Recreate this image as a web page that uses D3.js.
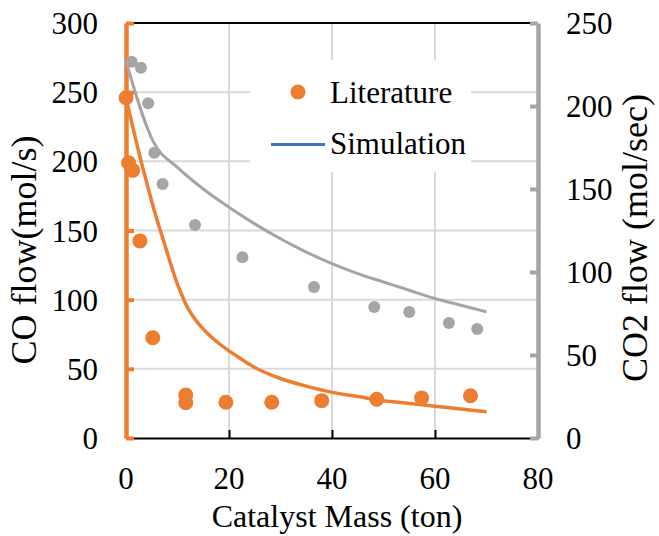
<!DOCTYPE html>
<html>
<head>
<meta charset="utf-8">
<script src="https://cdn.jsdelivr.net/npm/d3@7/dist/d3.min.js"></script>
<style>
  html, body { margin: 0; padding: 0; background: #fff; }
  svg { display: block; }
  svg text { font-family: "Liberation Serif", serif; fill: #000; }
</style>
</head>
<body>
<svg id="chart" width="659" height="536"></svg>
<script>
// Literature CO flow (left axis)
const litCOMass = [0, 0.5, 1.3, 2.7, 5.2, 11.6, 11.6, 19.4, 28.3, 38, 48.7, 57.4, 66.9];
const litCO     = [246, 199, 193.5, 142.5, 72.5, 31, 25.5, 25.8, 25.8, 27, 28, 29, 30.5];

// Literature CO2 flow (right axis)
const litCO2Mass = [1.1, 2.9, 4.3, 5.5, 7.1, 13.4, 22.6, 36.5, 48.2, 55, 62.7, 68.2];
const litCO2     = [226.7, 223, 201.6, 171.9, 153, 128.3, 108.9, 91, 78.9, 75.9, 69.3, 65.7];

// Simulated CO flow
const simCOMass = [0, 1, 2, 3, 4, 5, 6, 7, 8, 9, 10, 11, 12, 13, 14, 16, 18, 20, 22, 25, 30, 35, 40, 45, 50, 55, 60, 65, 70];
const simCO     = [246, 230, 214, 199, 185, 171, 158, 146, 134, 122, 111, 102, 94, 88, 83, 75, 68.5, 63, 58, 51, 43, 37.5, 33, 30, 27, 25, 23, 21, 19];

// Simulated CO2 flow
const simCO2Mass = [0, 5.3, 10, 15, 20, 25, 30, 35, 40, 45, 50, 55, 60, 65, 70];
const simCO2     = [227, 178.5, 163, 150, 139, 129, 120, 112, 105, 99, 94, 89, 84, 80, 76];

const xTicks  = [0, 20, 40, 60, 80];
const yLTicks = [0, 50, 100, 150, 200, 250, 300];
const yRTicks = [0, 50, 100, 150, 200, 250];

const legendItems = ["Literature", "Simulation"];

const ORANGE = "#ED7D31", GRAY = "#A5A5A5", BLUE = "#4472C4", GRID = "#D9D9D9";

const L = 126, R = 538, T = 23, B = 438;
const x  = d3.scaleLinear().domain([0, 80]).range([L, R]);
const yL = d3.scaleLinear().domain([0, 300]).range([B, T]);
const yR = d3.scaleLinear().domain([0, 250]).range([B, T]);

const svg = d3.select("#chart");
const FS = 31;        // tick labels and legend
const FS_TITLE = 36;  // vertical axis titles

// gridlines
const grid = svg.append("g");
grid.selectAll("line.h").data(yLTicks.slice(1)).join("line")
  .attr("x1", L).attr("x2", R).attr("y1", d => yL(d)).attr("y2", d => yL(d))
  .attr("stroke", GRID).attr("stroke-width", 2);
grid.selectAll("line.v").data(xTicks.slice(1, -1)).join("line")
  .attr("x1", d => x(d)).attr("x2", d => x(d)).attr("y1", T).attr("y2", B)
  .attr("stroke", GRID).attr("stroke-width", 2);

// top frame line
svg.append("line").attr("x1", L).attr("x2", R).attr("y1", T).attr("y2", T)
  .attr("stroke", "#000").attr("stroke-width", 2);

// bottom axis
const xAxis = d3.axisBottom(x).tickValues(xTicks).tickSizeInner(-8).tickSizeOuter(0).tickFormat("");
const gx = svg.append("g").attr("transform", `translate(0,${B})`).call(xAxis);
gx.select(".domain").attr("stroke", "#000").attr("stroke-width", 2);
gx.selectAll(".tick line").attr("stroke", "#000").attr("stroke-width", 2);
svg.append("g").selectAll("text").data(xTicks).join("text")
  .attr("x", d => x(d)).attr("y", 489).attr("text-anchor", "middle")
  .attr("font-size", FS).text(d => d);

// left axis (orange)
const yAxisL = d3.axisRight(yL).tickValues(yLTicks).tickSizeInner(8).tickSizeOuter(0).tickFormat("");
const gl = svg.append("g").attr("transform", `translate(${L},0)`).call(yAxisL);
gl.select(".domain").attr("stroke", ORANGE).attr("stroke-width", 4.5);
gl.selectAll(".tick line").attr("stroke", ORANGE).attr("stroke-width", 4);
svg.append("g").selectAll("text").data(yLTicks).join("text")
  .attr("x", 98).attr("y", d => yL(d) + 11).attr("text-anchor", "end")
  .attr("font-size", FS).text(d => d);

// right axis (gray)
const yAxisR = d3.axisLeft(yR).tickValues(yRTicks).tickSizeInner(8).tickSizeOuter(0).tickFormat("");
const gr = svg.append("g").attr("transform", `translate(${R},0)`).call(yAxisR);
gr.select(".domain").attr("stroke", GRAY).attr("stroke-width", 4.5);
gr.selectAll(".tick line").attr("stroke", GRAY).attr("stroke-width", 4);
svg.append("g").selectAll("text").data(yRTicks).join("text")
  .attr("x", 566).attr("y", d => yR(d) + 11).attr("text-anchor", "start")
  .attr("font-size", FS).text(d => d);

// axis titles
svg.append("text").attr("transform", "translate(36,250) rotate(-90)")
  .attr("text-anchor", "middle").attr("font-size", FS_TITLE).text("CO flow(mol/s)");
svg.append("text").attr("transform", "translate(647,238) rotate(-90)")
  .attr("text-anchor", "middle").attr("font-size", FS_TITLE).text("CO2 flow (mol/sec)");
svg.append("text").attr("x", (L + R) / 2 + 5).attr("y", 527)
  .attr("text-anchor", "middle").attr("font-size", 32).text("Catalyst Mass (ton)");

// simulation curves
const lineCO = d3.line().x((d, i) => x(simCOMass[i])).y(d => yL(d)).curve(d3.curveMonotoneX);
const lineCO2 = d3.line().x((d, i) => x(simCO2Mass[i])).y(d => yR(d)).curve(d3.curveMonotoneX);
svg.append("path").attr("d", lineCO2(simCO2)).attr("fill", "none")
  .attr("stroke", GRAY).attr("stroke-width", 3);
svg.append("path").attr("d", lineCO(simCO)).attr("fill", "none")
  .attr("stroke", ORANGE).attr("stroke-width", 3.5);

// literature points
svg.append("g").selectAll("circle").data(litCO2).join("circle")
  .attr("cx", (d, i) => x(litCO2Mass[i])).attr("cy", d => yR(d)).attr("r", 6)
  .attr("fill", GRAY);
svg.append("g").selectAll("circle").data(litCO).join("circle")
  .attr("cx", (d, i) => x(litCOMass[i])).attr("cy", d => yL(d)).attr("r", 7.5)
  .attr("fill", ORANGE);

// legend
const lg = svg.append("g");
lg.append("rect").attr("x", 250).attr("y", 60).attr("width", 221).attr("height", 112).attr("fill", "#fff");
lg.append("circle").attr("cx", 298).attr("cy", 92).attr("r", 7.5).attr("fill", ORANGE);
lg.append("line").attr("x1", 271).attr("x2", 325).attr("y1", 144.5).attr("y2", 144.5)
  .attr("stroke", BLUE).attr("stroke-width", 3);
lg.selectAll("text").data(legendItems).join("text")
  .attr("x", 330).attr("y", (d, i) => 103 + i * 51).attr("font-size", FS).text(d => d);
</script>
</body>
</html>
